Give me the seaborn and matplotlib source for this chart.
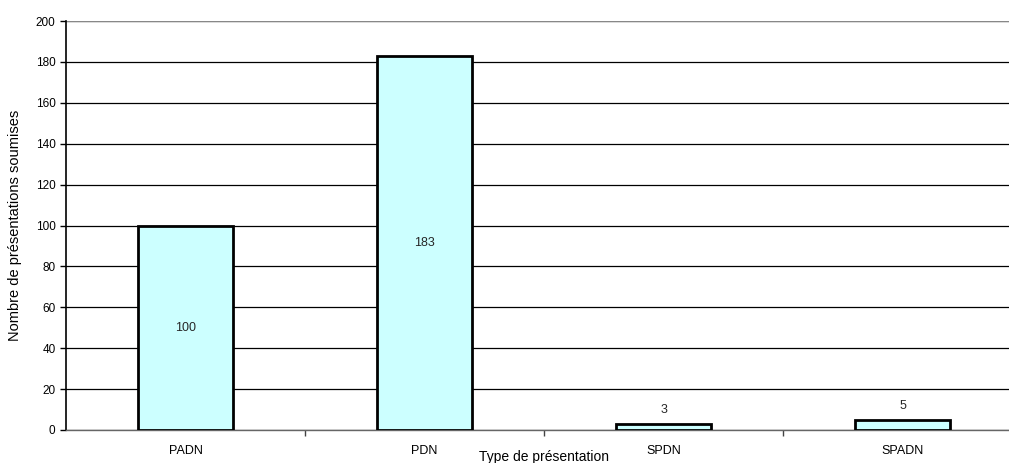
import matplotlib
matplotlib.use('Agg')
import matplotlib.pyplot as plt
import seaborn as sns
import pandas as pd

# Chart data
categories = ['PADN', 'PDN', 'SPDN', 'SPADN']
submissions = [100, 183, 3, 5]

sns.set_style('white')
plt.rcParams['font.family'] = ['Liberation Sans', 'DejaVu Sans']

df = pd.DataFrame({'type': categories, 'count': submissions})

fig = plt.figure(figsize=(10.09, 4.63), dpi=100)
ax = fig.add_axes([0.0654, 0.0713, 0.9475, 0.8833])

sns.barplot(data=df, x='type', y='count', color='#CCFFFF', saturation=1,
            edgecolor='black', linewidth=2, width=0.4, ax=ax, zorder=3)

ax.set_ylim(0, 200)
ax.set_xlim(-0.5, len(categories) - 0.5)
ax.set_yticks(range(0, 201, 20))
ax.yaxis.grid(True, color='black', linewidth=0.9, zorder=0)
ax.set_axisbelow(True)

# category separators as outward ticks
ax.set_xticks([i + 0.5 for i in range(len(categories) - 1)], minor=True)
ax.tick_params(axis='x', which='major', length=0, pad=11, labelsize=9, labelcolor='black')
ax.tick_params(axis='x', which='minor', length=4, width=1, direction='out',
               color='#444444', bottom=True)
ax.tick_params(axis='y', length=4, width=1, direction='out', left=True,
               labelsize=8.5, color='black', labelcolor='black')

for side in ['top', 'right']:
    ax.spines[side].set_visible(False)
ax.spines['left'].set_color('black')
ax.spines['left'].set_linewidth(1.2)
ax.spines['bottom'].set_color('#666666')
ax.spines['bottom'].set_linewidth(1)
ax.axhline(200, color='#888888', linewidth=1.5, zorder=1)

# value labels
for i, v in enumerate(submissions):
    if v > 20:
        ax.text(i, v / 2, str(v), ha='center', va='center', fontsize=9, zorder=4)
    else:
        ax.text(i, v + 4, str(v), ha='center', va='bottom', fontsize=9, zorder=4)

ax.set_xlabel('Type de présentation', fontsize=10, va='center', color='black')
ax.xaxis.set_label_coords(0.5, -0.066)
ax.set_ylabel('Nombre de présentations soumises', fontsize=10.5, labelpad=10, color='black')

fig.savefig('out.png', dpi=100)
